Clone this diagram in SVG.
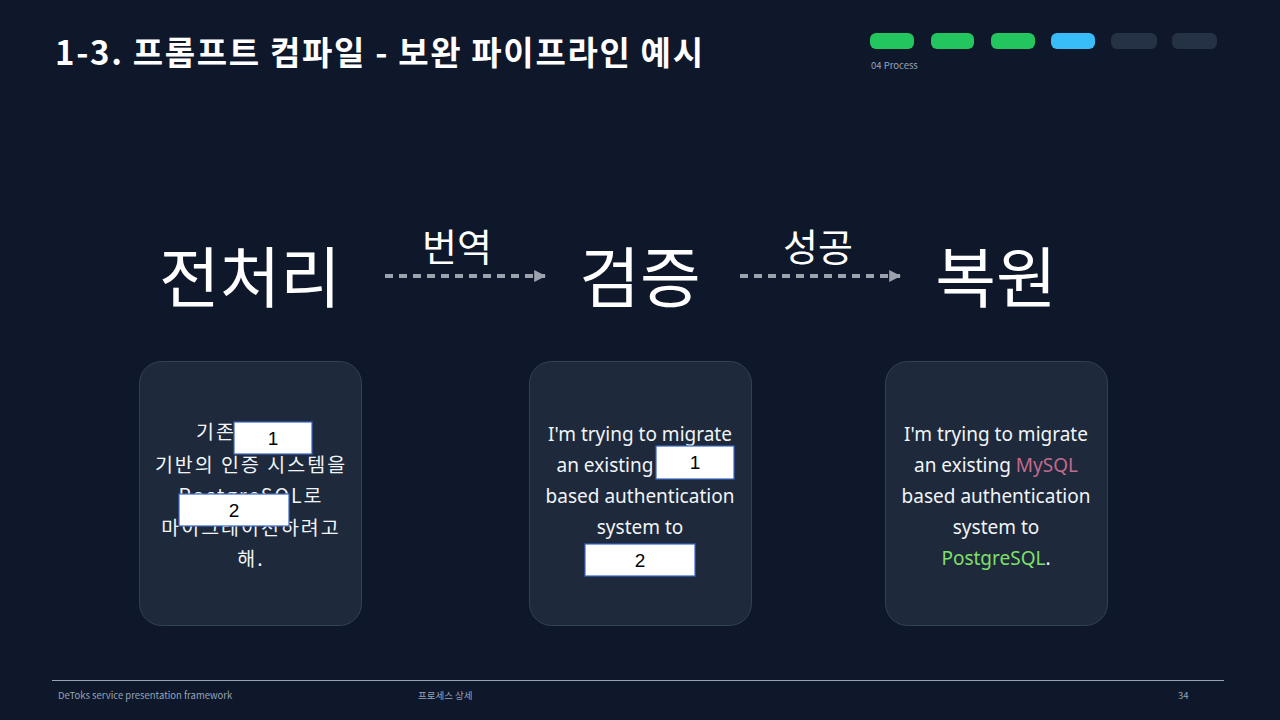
<svg xmlns="http://www.w3.org/2000/svg" width="1280" height="720" viewBox="0 0 1280 720">
<defs>
<style>
.kr{font-family:"Noto Sans CJK KR","Noto Sans",sans-serif}
.card{fill:#1e293b;stroke:#334155;stroke-width:1}
.ct{font-family:"Noto Sans","Noto Sans CJK KR",sans-serif;font-size:19px;fill:#f1f5f9;text-anchor:middle}
.ctk{font-family:"Noto Sans CJK KR","Noto Sans",sans-serif;font-size:19.5px;fill:#f1f5f9;text-anchor:middle;letter-spacing:2px}
.big{font-family:"Noto Sans CJK KR",sans-serif;font-size:66px;fill:#ffffff;text-anchor:middle}
.lbl{font-family:"Noto Sans CJK KR",sans-serif;font-size:38px;fill:#ffffff;text-anchor:middle}
.box{fill:#ffffff;stroke:#3a66c4;stroke-width:1.2}
.num{font-family:"Liberation Sans",Arial,sans-serif;font-size:19px;fill:#000000;text-anchor:middle}
.conn{stroke:#9ca3af;stroke-width:4;stroke-dasharray:8 6;fill:none}
.foot{font-family:"Noto Sans CJK KR","Noto Sans",sans-serif;font-size:9.5px;fill:#94a3b8}
</style>
<marker id="ah" viewBox="0 0 10 10" refX="9" refY="5" markerWidth="3" markerHeight="3" orient="auto" markerUnits="strokeWidth">
<path d="M0,0 L10,5 L0,10 z" fill="#9ca3af"/>
</marker>
</defs>
<rect width="1280" height="720" fill="#0f172a"/>
<g id="title">
<text x="55" y="65" class="kr" font-size="33" font-weight="bold" fill="#ffffff" textLength="648" lengthAdjust="spacing">1-3. 프롬프트 컴파일 - 보완 파이프라인 예시</text>
</g>
<g id="progress">
<rect x="870" y="33" width="44" height="16" rx="6" fill="#22c55e"/>
<rect x="931" y="33" width="43" height="16" rx="6" fill="#22c55e"/>
<rect x="991" y="33" width="44" height="16" rx="6" fill="#22c55e"/>
<rect x="1051" y="33" width="44" height="16" rx="6" fill="#38bdf8"/>
<rect x="1111" y="33" width="46" height="16" rx="6" fill="#253245"/>
<rect x="1172" y="33" width="45" height="16" rx="6" fill="#253245"/>
<text x="871" y="69" class="foot" font-size="10">04 Process</text>
</g>
<g id="stage-preprocess">
<text x="250" y="302" class="big">전처리</text>
</g>
<g id="stage-verify">
<text x="640" y="302" class="big">검증</text>
</g>
<g id="stage-restore">
<text x="996" y="302" class="big">복원</text>
</g>
<g id="connectors">
<line x1="385" y1="276" x2="545" y2="276" class="conn" marker-end="url(#ah)"/>
<text x="457" y="261" class="lbl">번역</text>
<line x1="740" y1="276" x2="900" y2="276" class="conn" marker-end="url(#ah)"/>
<text x="818" y="261" class="lbl">성공</text>
</g>
<g id="card-preprocess">
<rect x="139.5" y="361.5" width="222" height="264" rx="22" class="card"/>
<text class="ctk"><tspan x="216" y="439">기존</tspan><tspan x="251" y="472">기반의 인증 시스템을</tspan><tspan x="251" y="503">PostgreSQL로</tspan><tspan x="251" y="535">마이그레이션하려고</tspan><tspan x="251" y="566">해.</tspan></text>
<rect x="234" y="422" width="78" height="32" class="box"/>
<text x="273" y="445" class="num">1</text>
<rect x="179" y="494" width="110" height="32" class="box"/>
<text x="234" y="517" class="num">2</text>
</g>
<g id="card-verify">
<rect x="529.5" y="361.5" width="222" height="264" rx="22" class="card"/>
<text class="ct"><tspan x="640" y="441">I'm trying to migrate</tspan><tspan x="605" y="472">an existing</tspan><tspan x="640" y="503">based authentication</tspan><tspan x="640" y="534">system to</tspan></text>
<rect x="656" y="446" width="78" height="33" class="box"/>
<text x="695" y="469" class="num">1</text>
<rect x="585" y="544" width="110" height="32" class="box"/>
<text x="640" y="567" class="num">2</text>
</g>
<g id="card-restore">
<rect x="885.5" y="361.5" width="222" height="264" rx="22" class="card"/>
<text class="ct"><tspan x="996" y="441">I'm trying to migrate</tspan><tspan x="996" y="472">an existing <tspan fill="#c46a8e">MySQL</tspan></tspan><tspan x="996" y="503">based authentication</tspan><tspan x="996" y="534">system to</tspan><tspan x="996" y="565"><tspan fill="#7ee06a">PostgreSQL</tspan>.</tspan></text>
</g>
<g id="footer">
<line x1="52" y1="680.5" x2="1224" y2="680.5" stroke="#94a3b8" stroke-width="1"/>
<text x="58" y="699" class="foot">DeToks service presentation framework</text>
<text x="418" y="699" class="foot">프로세스 상세</text>
<text x="1178" y="699" class="foot">34</text>
</g>
</svg>
